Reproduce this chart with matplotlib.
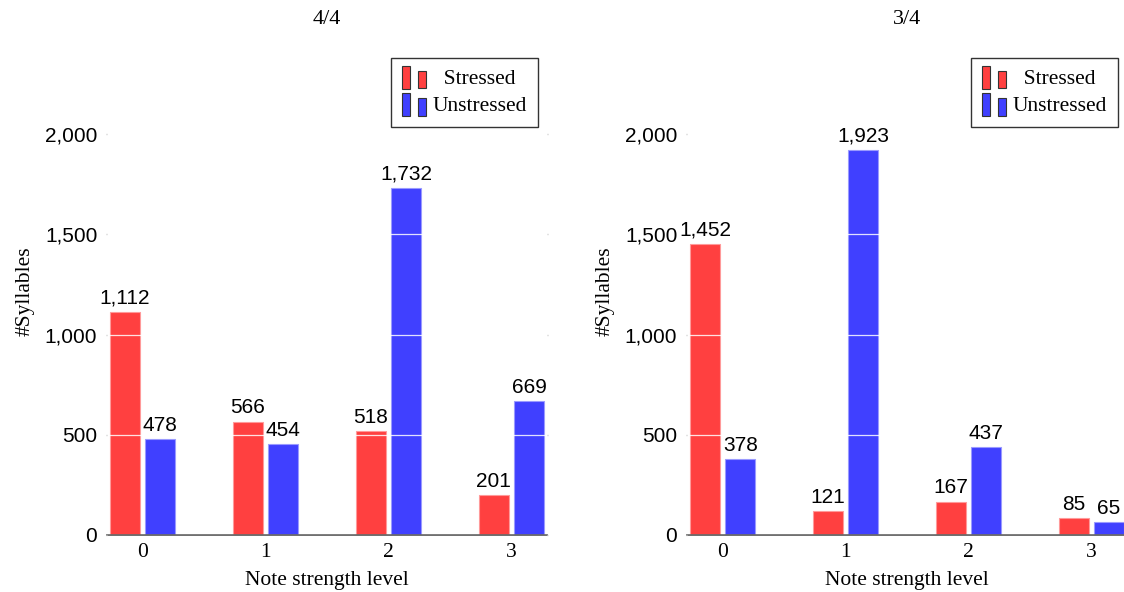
import matplotlib
matplotlib.use('Agg')
import matplotlib.pyplot as plt
import matplotlib.patches as mpatches
from matplotlib.legend_handler import HandlerBase
import matplotlib.ticker as ticker

# --- Datos ---
levels = [0, 1, 2, 3]
titles = ['4/4', '3/4']
stressed_44 = [1112, 566, 518, 201]
unstressed_44 = [478, 454, 1732, 669]
stressed_34 = [1452, 121, 167, 85]
unstressed_34 = [378, 1923, 437, 65]
yticks = [0, 500, 1000, 1500, 2000]

RED = '#ff4040'
BLUE = '#4040ff'
SERIF = 'Liberation Serif'
SANS = 'Liberation Sans'
FS_SERIF = 15.5
FS_SANS = 15


class TwoBarHandler(HandlerBase):
    """Legend image with two small bars, pgfplots style."""
    def create_artists(self, legend, orig_handle, xdescent, ydescent,
                       width, height, fontsize, trans):
        fc = orig_handle.get_facecolor()
        w = width * 0.34
        r1 = mpatches.Rectangle((-xdescent, -ydescent - 3), w, height + 5,
                                facecolor=fc, edgecolor='#333333', lw=0.8, transform=trans)
        r2 = mpatches.Rectangle((-xdescent + width * 0.64, -ydescent - 2.5), w, height + 1,
                                facecolor=fc, edgecolor='#333333', lw=0.8, transform=trans)
        return [r1, r2]


fig = plt.figure(figsize=(11.24, 5.92), dpi=100)
ax1 = fig.add_axes([107 / 1124, 57 / 592, 440 / 1124, 487 / 592])
ax2 = fig.add_axes([687 / 1124, 57 / 592, 440 / 1124, 487 / 592])

w = 0.245
off = 0.144
for ax, title, s, u in [(ax1, titles[0], stressed_44, unstressed_44),
                        (ax2, titles[1], stressed_34, unstressed_34)]:
    xs = [x - off for x in levels]
    xu = [x + off for x in levels]
    b1 = ax.bar(xs, s, width=w, color=RED, edgecolor='#ff9a9a', linewidth=0.8, zorder=2)
    b2 = ax.bar(xu, u, width=w, color=BLUE, edgecolor='#9a9aff', linewidth=0.8, zorder=2)
    for bars, vals in [(b1, s), (b2, u)]:
        ax.bar_label(bars, labels=[f'{v:,}' for v in vals], padding=3,
                     fontsize=FS_SANS, family=SANS, zorder=4)

    ax.set_xlim(-0.29, 3.29)
    ax.set_ylim(0, 2430)
    ax.set_xticks(levels)
    ax.set_xticklabels([str(l) for l in levels], fontsize=FS_SERIF, family=SERIF)
    ax.set_yticks(yticks)
    ax.yaxis.set_major_formatter(ticker.FuncFormatter(lambda v, p: f'{int(v):,}'))
    for lab in ax.get_yticklabels():
        lab.set_fontsize(FS_SANS)
        lab.set_family(SANS)
    ax.grid(axis='y', color='white', linewidth=0.9, alpha=0.85, zorder=3)
    ax.set_axisbelow(False)
    for sp in ['top', 'right', 'left']:
        ax.spines[sp].set_visible(False)
    ax.spines['bottom'].set_color('#555555')
    ax.spines['bottom'].set_linewidth(1.2)
    ax.tick_params(axis='x', length=0, pad=6)
    ax.tick_params(axis='y', left=True, right=True, length=1.0, width=1.0,
                   color='#c8c8c8', pad=6)

    ax.set_xlabel('Note strength level', fontsize=FS_SERIF, family=SERIF, labelpad=6)
    ax.set_ylabel('#Syllables', fontsize=FS_SERIF, family=SERIF, labelpad=7)
    ax.set_title(title, fontsize=16, family=SERIF, pad=17)

    leg = ax.legend(handles=[b1.patches[0], b2.patches[0]],
                    labels=['  Stressed', 'Unstressed'],
                    loc='upper right', bbox_to_anchor=(0.98, 0.98),
                    handler_map={mpatches.Rectangle: TwoBarHandler()},
                    prop={'family': SERIF, 'size': 15.5}, fancybox=False,
                    edgecolor='#333333', framealpha=1, borderpad=0.5,
                    handlelength=1.15, handleheight=0.8, handletextpad=0.3,
                    labelspacing=0.3, borderaxespad=0)
    leg.get_frame().set_linewidth(1.0)

fig.savefig('out.png', dpi=100)
